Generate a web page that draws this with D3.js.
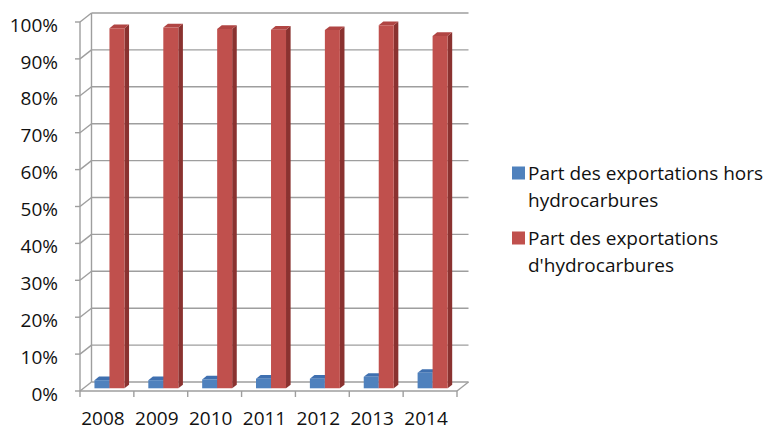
<!DOCTYPE html>
<html><head><meta charset="utf-8">
<script src="https://cdn.jsdelivr.net/npm/d3@7"></script>
<style>body{margin:0;background:#fff}svg{display:block}</style>
</head><body>
<svg id="chart" width="766" height="431"></svg>
<script>
const years = ["2008","2009","2010","2011","2012","2013","2014"];
const horsHydro = [2.2, 2.2, 2.4, 2.6, 2.6, 3.1, 4.2];
const hydro = [97.6, 97.8, 97.4, 97.2, 97.1, 98.4, 95.5];
const seriesNames = ["Part des exportations hors hydrocarbures", "Part des exportations d'hydrocarbures"];
const legendLines = [["Part des exportations hors", "hydrocarbures"], ["Part des exportations", "d'hydrocarbures"]];
const yTicks = [0,10,20,30,40,50,60,70,80,90,100];

const font = "'Open Sans', sans-serif";
const fs = 19;
const svg = d3.select("#chart");
const X0 = 80, X1 = 457, DX = 11.5, DY = -9;
const x = d3.scaleBand().domain(years).range([X0, X1]);
const xs = d3.scaleBand().domain([0,1]).range([11, 41]);
const y = d3.scaleLinear().domain([0, 100]).range([391, 22]);
const P = (px, v, d) => [px + d*DX, y(v) + d*DY];
const grid = "#9e9e9e";
const line = (a, b) => svg.append("line").attr("x1",a[0]).attr("y1",a[1]).attr("x2",b[0]).attr("y2",b[1])
  .attr("stroke", grid).attr("stroke-width", 1.4);

// walls
yTicks.forEach(t => {
  line(P(X0,t,1), P(X1,t,1));
  line(P(X0,t,0), P(X0,t,1));
  line([X0-5, y(t)], [X0, y(t)]);
});
line(P(X0,0,0), P(X0,100,0));
line(P(X0,0,1), P(X0,100,1));
line(P(X0,0,0), P(X1,0,0));
line(P(X1,0,0), P(X1,0,1));
[...years.map(c => x(c)), X1].forEach(px => line([px, y(0)], [px, y(0)+6]));

// y labels
svg.append("g").selectAll("text").data(yTicks).join("text")
  .attr("x", 58).attr("y", d => y(d) + 3).attr("dy", "0.35em").attr("text-anchor","end")
  .attr("font-family", font).attr("font-size", fs).attr("fill", "#111")
  .text(d => d + "%");
// x labels
svg.append("g").selectAll("text").data(years).join("text")
  .attr("x", d => x(d) + x.bandwidth()/2 - 4).attr("y", 425).attr("text-anchor","middle")
  .attr("font-family", font).attr("font-size", fs).attr("fill", "#111")
  .text(d => d);

// bars
const colors = [
  {front:"#4f81bd", side:"#34598a", top:"#3f70b0"},
  {front:"#c0504d", side:"#8a3230", top:"#b04543"}
];
const D0 = 0.3, D1 = 0.7;
const poly = pts => pts.map(p => p.join(",")).join(" ");
const gBars = svg.append("g");
years.forEach((yr, i) => {
  [horsHydro[i], hydro[i]].forEach((v, s) => {
    const xl = x(yr) + xs(s), xr = xl + xs.bandwidth();
    const c = colors[s];
    const g = gBars.append("g");
    g.append("polygon").attr("points", poly([P(xr,0,D0), P(xr,0,D1), P(xr,v,D1), P(xr,v,D0)])).attr("fill", c.side);
    g.append("polygon").attr("points", poly([P(xl,v,D0), P(xl,v,D1), P(xr,v,D1), P(xr,v,D0)])).attr("fill", c.top);
    g.append("polygon").attr("points", poly([P(xl,0,D0), P(xr,0,D0), P(xr,v,D0), P(xl,v,D0)])).attr("fill", c.front);
  });
});

// legend
const leg = svg.append("g");
legendLines.forEach((lines, i) => {
  const cy = 173 + i*65;
  leg.append("rect").attr("x", 512).attr("y", cy-6.5).attr("width", 13).attr("height", 13).attr("fill", colors[i].front);
  lines.forEach((t, j) => {
    leg.append("text").attr("x", 528).attr("y", cy + j*27).attr("dy","0.35em")
      .attr("font-family", font).attr("font-size", fs).attr("fill", "#111").text(t);
  });
});
</script>
</body></html>
